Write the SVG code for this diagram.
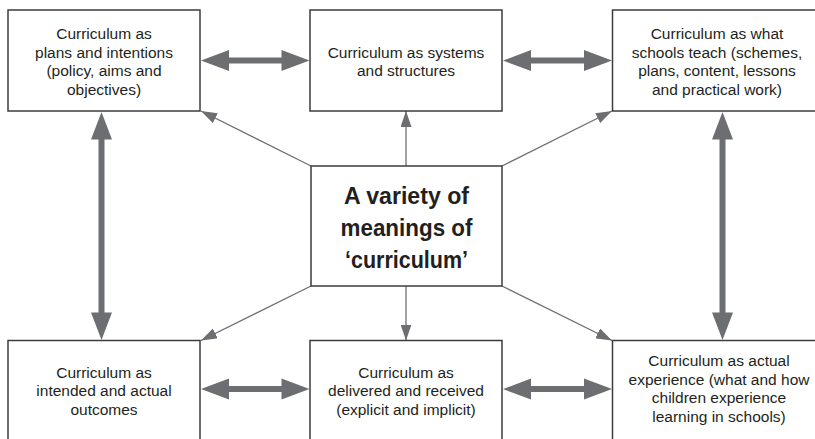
<svg xmlns="http://www.w3.org/2000/svg" width="815" height="439" viewBox="0 0 815 439">
<style>
  .box { fill: #ffffff; stroke: #3c3c3e; stroke-width: 1.5; }
  .t { font-family: "Liberation Sans", Arial, sans-serif; font-size: 15.5px; fill: #231f20; text-anchor: middle; }
  .tb { font-family: "Liberation Sans", Arial, sans-serif; font-size: 24px; font-weight: bold; fill: #231f20; text-anchor: middle; }
  .thick { fill: #6d6e71; stroke: none; }
  .thin { stroke: #6d6e71; stroke-width: 1.3; fill: none; marker-end: url(#ah); }
</style>
<defs>
  <marker id="ah" viewBox="0 0 16 11" refX="16" refY="5.5" markerWidth="16" markerHeight="11" markerUnits="userSpaceOnUse" orient="auto">
    <path d="M0,0 L16,5.5 L0,11 Z" fill="#6d6e71"/>
  </marker>
</defs>
<rect width="815" height="439" fill="#ffffff"/>

<g id="connectors">
  <!-- thin arrows from centre -->
  <line class="thin" x1="311" y1="166" x2="201" y2="111"/>
  <line class="thin" x1="406" y1="166" x2="406" y2="111"/>
  <line class="thin" x1="502" y1="166" x2="612" y2="111"/>
  <line class="thin" x1="311" y1="286" x2="201" y2="340.5"/>
  <line class="thin" x1="406" y1="286" x2="406" y2="340.5"/>
  <line class="thin" x1="502" y1="286" x2="612" y2="340.5"/>
  <!-- thick double arrows: horizontal -->
  <polygon class="thick" points="201,60.5 229,50 229,57.5 281.5,57.5 281.5,50 309.5,60.5 281.5,71 281.5,63.5 229,63.5 229,71"/>
  <polygon class="thick" points="503,60.5 531,50 531,57.5 584,57.5 584,50 612,60.5 584,71 584,63.5 531,63.5 531,71"/>
  <polygon class="thick" points="201,389 229,378.5 229,386 281.5,386 281.5,378.5 309.5,389 281.5,399.5 281.5,392 229,392 229,399.5"/>
  <polygon class="thick" points="503,389 531,378.5 531,386 584,386 584,378.5 612,389 584,399.5 584,392 531,392 531,399.5"/>
  <!-- thick double arrows: vertical -->
  <polygon class="thick" points="101.5,112 112,139.5 104.5,139.5 104.5,312.5 112,312.5 101.5,340 91,312.5 98.5,312.5 98.5,139.5 91,139.5"/>
  <polygon class="thick" points="722.5,112 733,139.5 725.5,139.5 725.5,312.5 733,312.5 722.5,340 712,312.5 719.5,312.5 719.5,139.5 712,139.5"/>
</g>

<g id="plans">
  <rect class="box" x="8" y="10" width="192" height="101"/>
  <text class="t" x="104" y="39">Curriculum as</text>
  <text class="t" x="104" y="57.5">plans and intentions</text>
  <text class="t" x="104" y="76">(policy, aims and</text>
  <text class="t" x="104" y="94.5">objectives)</text>
</g>

<g id="systems">
  <rect class="box" x="310" y="10" width="192" height="101"/>
  <text class="t" x="406" y="57.5">Curriculum as systems</text>
  <text class="t" x="406" y="76">and structures</text>
</g>

<g id="schools-teach">
  <rect class="box" x="612.5" y="10" width="220" height="101"/>
  <text class="t" x="717" y="39">Curriculum as what</text>
  <text class="t" x="717" y="57.5">schools teach (schemes,</text>
  <text class="t" x="717" y="76">plans, content, lessons</text>
  <text class="t" x="717" y="94.5">and practical work)</text>
</g>

<g id="centre">
  <rect class="box" x="311" y="166" width="191" height="120"/>
  <text class="tb" x="406.5" y="203.5" textLength="125" lengthAdjust="spacingAndGlyphs">A variety of</text>
  <text class="tb" x="406.5" y="236" textLength="132" lengthAdjust="spacingAndGlyphs">meanings of</text>
  <text class="tb" x="406.5" y="268" textLength="123" lengthAdjust="spacingAndGlyphs">‘curriculum’</text>
</g>

<g id="outcomes">
  <rect class="box" x="8" y="340.5" width="192" height="120"/>
  <text class="t" x="104" y="377.5">Curriculum as</text>
  <text class="t" x="104" y="396">intended and actual</text>
  <text class="t" x="104" y="414.5">outcomes</text>
</g>

<g id="delivered">
  <rect class="box" x="310" y="340.5" width="192" height="120"/>
  <text class="t" x="406" y="377.5">Curriculum as</text>
  <text class="t" x="406" y="396">delivered and received</text>
  <text class="t" x="406" y="414.5">(explicit and implicit)</text>
</g>

<g id="experience">
  <rect class="box" x="612.5" y="340.5" width="220" height="120"/>
  <text class="t" x="719" y="366">Curriculum as actual</text>
  <text class="t" x="719" y="384.5">experience (what and how</text>
  <text class="t" x="719" y="403">children experience</text>
  <text class="t" x="719" y="421.5">learning in schools)</text>
</g>
</svg>
